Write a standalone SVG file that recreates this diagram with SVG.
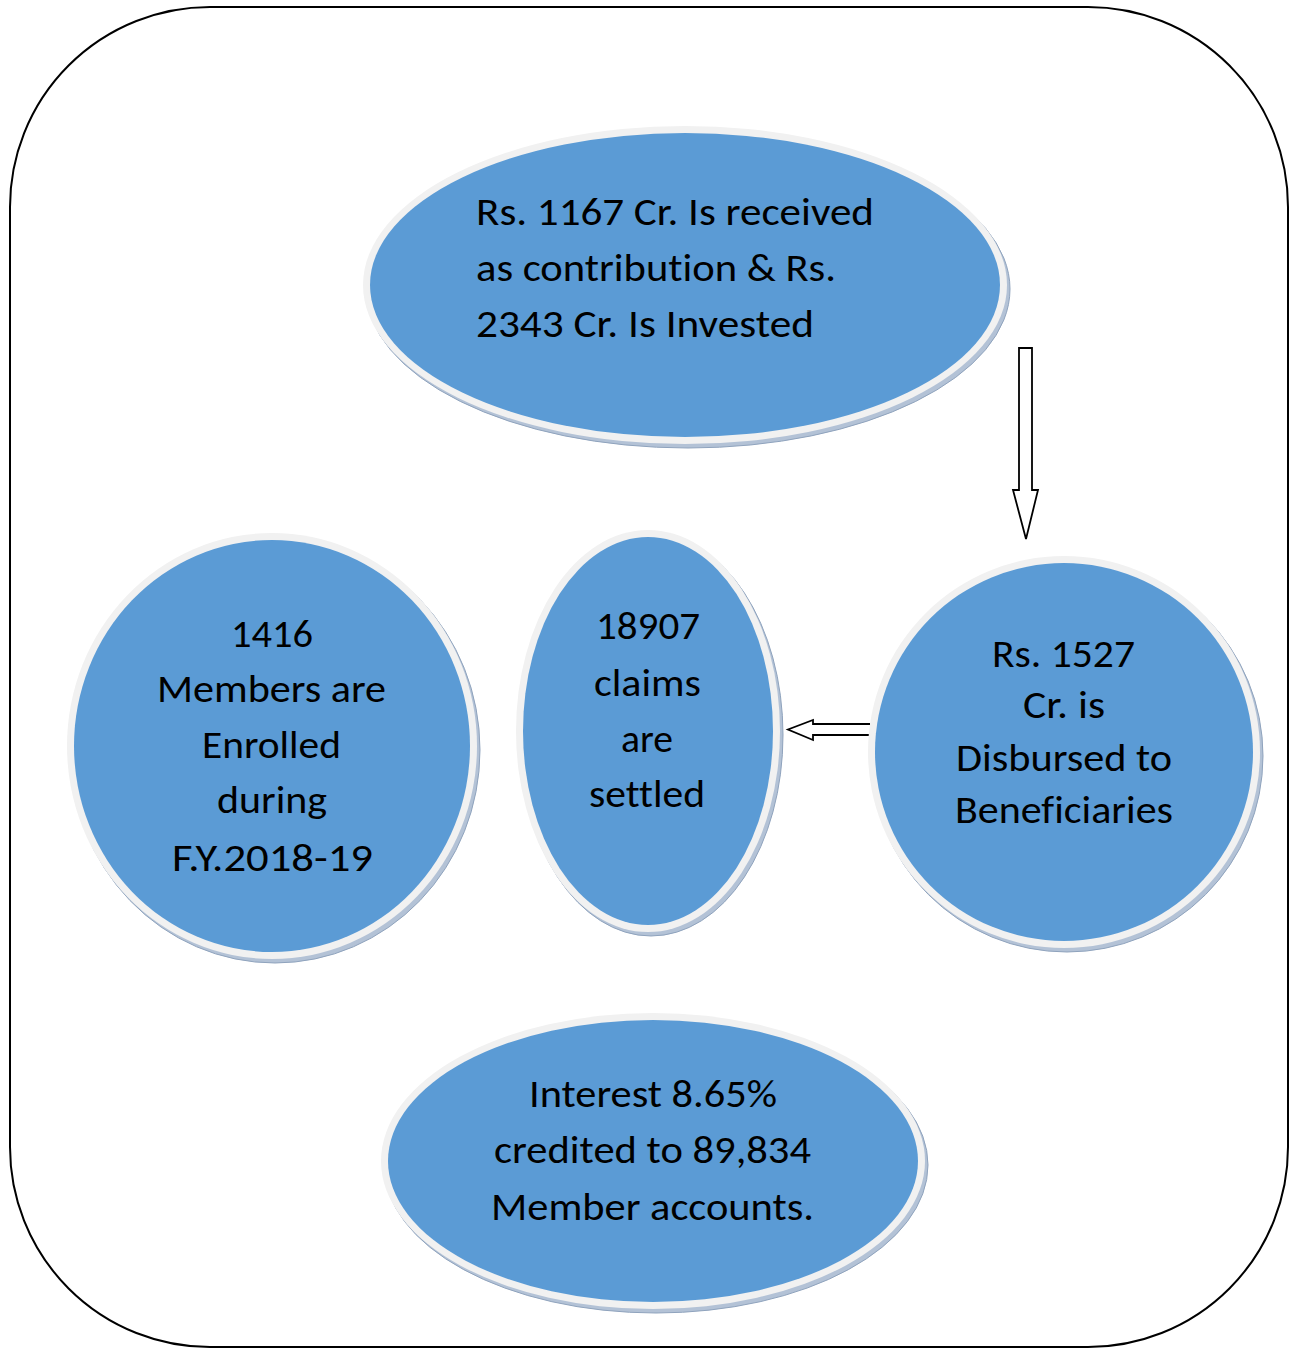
<svg xmlns="http://www.w3.org/2000/svg" width="1295" height="1349" viewBox="0 0 1295 1349">
<style>
.shadow{fill:#b3c2d6;stroke:#8fa3bd;stroke-width:1}
.ring{fill:#f1f1f1}
.body{fill:#5b9bd5}
.t{font-family:Carlito,Lato,"Open Sans",sans-serif;font-size:38px;fill:#000;font-variant-ligatures:none;font-feature-settings:"liga" 0,"clig" 0}
.arrow{fill:#fff;stroke:#000;stroke-width:1.8;stroke-linejoin:miter}
</style>
<rect x="0" y="0" width="1295" height="1349" fill="#fff"/>
<rect id="frame" x="10" y="7" width="1278" height="1340" rx="200" ry="200" fill="none" stroke="#000" stroke-width="2"/>

<g id="connectors">
<path class="arrow" d="M1019,348 H1032 V490 H1038 L1026,539 L1013,490 H1019 Z"/>
<path class="arrow" d="M870,724 H813 V720 L788,729.5 L813,740 V735 H870"/>
</g>

<g id="node-top">
<ellipse class="shadow" cx="688" cy="289" rx="322" ry="159"/>
<ellipse class="ring" cx="685" cy="285" rx="322" ry="159"/>
<ellipse class="body" cx="685" cy="285" rx="315" ry="152"/>
<text class="t" x="476" y="225" textLength="398" lengthAdjust="spacingAndGlyphs">Rs. 1167 Cr. Is received</text>
<text class="t" x="476" y="281" textLength="360" lengthAdjust="spacingAndGlyphs">as contribution &amp; Rs.</text>
<text class="t" x="476" y="337" textLength="338" lengthAdjust="spacingAndGlyphs">2343 Cr. Is Invested</text>
</g>

<g id="node-right">
<ellipse class="shadow" cx="1067" cy="756" rx="196" ry="196"/>
<ellipse class="ring" cx="1064" cy="752" rx="196" ry="196"/>
<ellipse class="body" cx="1064" cy="752" rx="189" ry="189"/>
<text class="t" x="992" y="667" textLength="143" lengthAdjust="spacingAndGlyphs">Rs. 1527</text>
<text class="t" x="1023" y="718" textLength="82" lengthAdjust="spacingAndGlyphs">Cr. is</text>
<text class="t" x="956" y="771" textLength="216" lengthAdjust="spacingAndGlyphs">Disbursed to</text>
<text class="t" x="955" y="823" textLength="218" lengthAdjust="spacingAndGlyphs">Beneficiaries</text>
</g>

<g id="node-middle">
<ellipse class="shadow" cx="651" cy="735" rx="132" ry="201"/>
<ellipse class="ring" cx="648" cy="731" rx="132" ry="201"/>
<ellipse class="body" cx="648" cy="731" rx="125" ry="194"/>
<text class="t" x="596" y="639" textLength="104" lengthAdjust="spacingAndGlyphs">18907</text>
<text class="t" x="594" y="696" textLength="107" lengthAdjust="spacingAndGlyphs">claims</text>
<text class="t" x="621" y="752" textLength="52" lengthAdjust="spacingAndGlyphs">are</text>
<text class="t" x="589" y="807" textLength="116" lengthAdjust="spacingAndGlyphs">settled</text>
</g>

<g id="node-left">
<ellipse class="shadow" cx="275" cy="750" rx="205" ry="213"/>
<ellipse class="ring" cx="272" cy="746" rx="205" ry="213"/>
<ellipse class="body" cx="272" cy="746" rx="198" ry="206"/>
<text class="t" x="231" y="647" textLength="82" lengthAdjust="spacingAndGlyphs">1416</text>
<text class="t" x="157" y="702" textLength="229" lengthAdjust="spacingAndGlyphs">Members are</text>
<text class="t" x="202" y="758" textLength="139" lengthAdjust="spacingAndGlyphs">Enrolled</text>
<text class="t" x="217" y="813" textLength="110" lengthAdjust="spacingAndGlyphs">during</text>
<text class="t" x="172" y="871" textLength="201" lengthAdjust="spacingAndGlyphs">F.Y.2018-19</text>
</g>

<g id="node-bottom">
<ellipse class="shadow" cx="656" cy="1165" rx="272" ry="148"/>
<ellipse class="ring" cx="653" cy="1161" rx="272" ry="148"/>
<ellipse class="body" cx="653" cy="1161" rx="265" ry="141"/>
<text class="t" x="529" y="1107" textLength="248" lengthAdjust="spacingAndGlyphs">Interest 8.65%</text>
<text class="t" x="494" y="1163" textLength="317" lengthAdjust="spacingAndGlyphs">credited to 89,834</text>
<text class="t" x="491" y="1220" textLength="323" lengthAdjust="spacingAndGlyphs">Member accounts.</text>
</g>
</svg>
